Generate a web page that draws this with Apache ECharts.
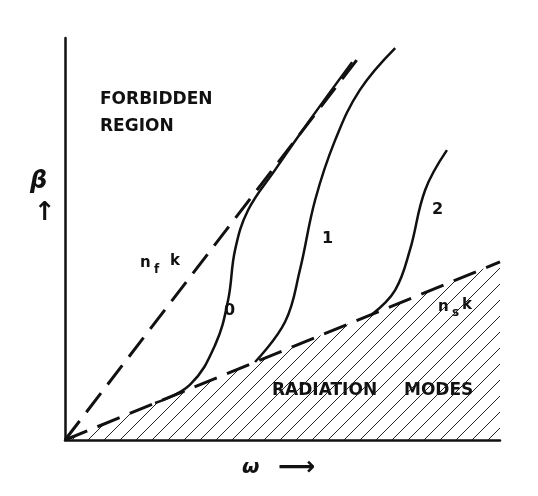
<!DOCTYPE html>
<html><head><meta charset="utf-8">
<script src="https://cdn.jsdelivr.net/npm/echarts@6/dist/echarts.min.js"></script>
<style>html,body{margin:0;background:#fff}#c{width:538px;height:496px}</style>
</head><body><div id="c"></div>
<script>
const nfkLine = [[0,0],[67.4,95.0]];
const nskLine = [[0,0],[100,44.3]];
const mode0 = [[20.7,9.2],[28.7,13.7],[34.5,23.6],[37.5,34.8],[39.1,47.3],[42.1,57.2],[48.3,67.2],[56.3,79.6],[66.0,94.0]];
const mode1 = [[43.7,19.4],[50.6,29.4],[54.0,42.3],[57.5,59.7],[62.1,74.6],[67.8,87.1],[75.9,97.5]];
const mode2 = [[70.6,31.3],[75.9,37.3],[79.3,47.3],[82.8,62.2],[87.8,72.1]];

const cv = document.createElement('canvas'); cv.width = 16; cv.height = 16;
const g = cv.getContext('2d'); g.strokeStyle = '#222'; g.lineWidth = 1;
g.beginPath(); g.moveTo(0,16); g.lineTo(16,0); g.moveTo(-2,2); g.lineTo(2,-2); g.moveTo(14,18); g.lineTo(18,14); g.stroke();

const ch = echarts.init(document.getElementById('c'));
const lab = (t, x, y, s, extra) => ({type:'text', left:x, top:y, style:{text:t, font:(extra||'bold ')+s+'px "DejaVu Sans", sans-serif', fill:'#111'}});
const curve = d => ({type:'line', data:d, smooth:0.4, showSymbol:false, lineStyle:{color:'#111', width:2.5}, z:3});
ch.setOption({
  animation:false,
  grid:{left:65, top:38, right:38, bottom:56},
  xAxis:{type:'value', min:0, max:100, axisLine:{lineStyle:{color:'#111', width:2.5}}, axisTick:{show:false}, axisLabel:{show:false}, splitLine:{show:false}},
  yAxis:{type:'value', min:0, max:100, axisLine:{show:true, lineStyle:{color:'#111', width:2.5}}, axisTick:{show:false}, axisLabel:{show:false}, splitLine:{show:false}},
  series:[
    {type:'line', data:nskLine, showSymbol:false, lineStyle:{color:'#111', width:3, type:[24,11]}, areaStyle:{color:{image:cv, repeat:'repeat'}, opacity:1}, z:2},
    {type:'line', data:nfkLine, showSymbol:false, lineStyle:{color:'#111', width:3, type:[24,11]}, z:2},
    curve(mode0), curve(mode1), curve(mode2)
  ],
  graphic:[
    lab('FORBIDDEN', 100, 91, 17), lab('REGION', 100, 118, 17),
    {type:'rect', left:268, top:380, shape:{width:214, height:25}, style:{fill:'#fff'}},
    lab('RADIATION', 272, 382, 17), lab('MODES', 404, 382, 17),
    lab('β', 30, 170, 24, 'bold italic '), lab('↑', 34, 200, 26),
    lab('ω', 242, 458, 20, 'bold italic '), lab('⟶', 278, 455, 26),
    lab('n', 140, 256, 15), lab('f', 154, 264, 12), lab('k', 170, 254, 15),
    lab('n', 438, 300, 15), lab('s', 452, 307, 12), lab('k', 462, 298, 15),
    lab('0', 224, 303, 16), lab('1', 322, 231, 16), lab('2', 432, 202, 16)
  ]
});
</script></body></html>
